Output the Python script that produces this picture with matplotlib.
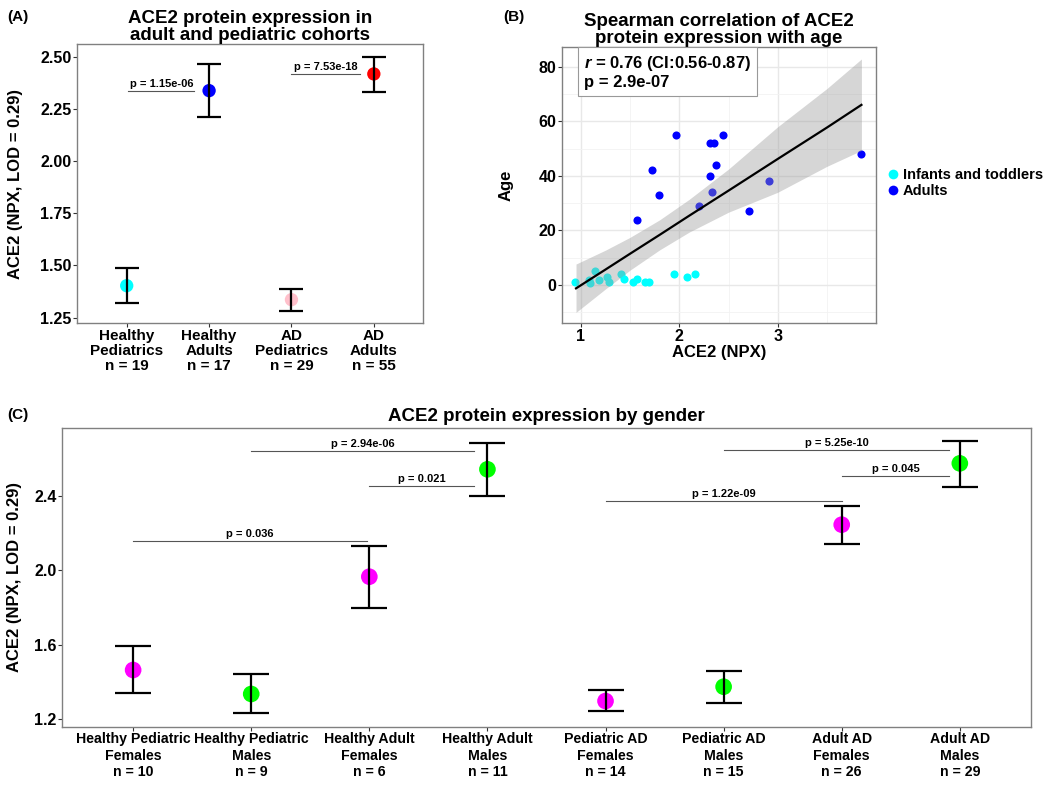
import numpy as np
import matplotlib
matplotlib.use('Agg')
import matplotlib.pyplot as plt
from matplotlib.lines import Line2D

plt.rcParams['font.family'] = ['Liberation Sans', 'DejaVu Sans']
plt.rcParams['font.weight'] = 'bold'
plt.rcParams['mathtext.fontset'] = 'custom'
plt.rcParams['mathtext.it'] = 'Liberation Sans:italic:bold'
plt.rcParams['mathtext.rm'] = 'Liberation Sans:bold'

# ---- (A) cohorts
cohorts = ['Healthy\nPediatrics\nn = 19', 'Healthy\nAdults\nn = 17',
           'AD\nPediatrics\nn = 29', 'AD\nAdults\nn = 55']
cohort_mean = [1.403, 2.337, 1.336, 2.417]
cohort_lo = [1.322, 2.211, 1.284, 2.332]
cohort_hi = [1.487, 2.465, 1.389, 2.497]
cohort_col = ['#00FFFF', '#0000FF', '#FFC0CB', '#FF0000']
a_pvals = [(1.02, 1.82, 2.337, 'p = 1.15e-06'),
           (3.0, 3.83, 2.415, 'p = 7.53e-18')]

# ---- (B) age vs ACE2
kid_npx = [0.94, 1.08, 1.09, 1.145, 1.18, 1.26, 1.29, 1.41, 1.44, 1.53, 1.57, 1.65, 1.69, 1.95, 2.08, 2.16]
kid_age = [1.2, 1.8, 0.6, 5.2, 1.8, 3.0, 1.2, 4.0, 2.1, 1.1, 2.1, 1.1, 1.1, 3.9, 3.0, 3.9]
adult_npx = [1.97, 2.31, 2.35, 2.44, 2.37, 2.31, 1.72, 1.79, 2.33, 2.20, 1.57, 2.91, 2.71, 3.85]
adult_age = [55, 52, 52, 55, 44, 40, 42, 33, 34, 29, 24, 38, 27, 48]
# lm fit and 95% band
fit_x = [0.95, 1.25, 1.5, 1.8, 2.1, 2.5, 3.0, 3.5, 3.85]
fit_y = [-1.2, 5.7, 11.5, 18.4, 25.4, 34.6, 46.2, 57.7, 66.0]
fit_lo = [-10.0, -1.4, 5.5, 12.9, 19.4, 26.7, 34.0, 43.5, 49.3]
fit_hi = [7.7, 12.8, 17.5, 23.9, 31.4, 42.5, 58.0, 72.0, 82.8]

# ---- (C) by gender
groups = ['Healthy Pediatric\nFemales\nn = 10', 'Healthy Pediatric\nMales\nn = 9',
          'Healthy Adult\nFemales\nn = 6', 'Healthy Adult\nMales\nn = 11',
          'Pediatric AD\nFemales\nn = 14', 'Pediatric AD\nMales\nn = 15',
          'Adult AD\nFemales\nn = 26', 'Adult AD\nMales\nn = 29']
group_mean = [1.464, 1.335, 1.966, 2.544, 1.297, 1.374, 2.246, 2.576]
group_lo = [1.338, 1.231, 1.799, 2.400, 1.241, 1.284, 2.143, 2.450]
group_hi = [1.591, 1.442, 2.131, 2.687, 1.354, 1.460, 2.348, 2.695]
group_sex = ['F', 'M', 'F', 'M', 'F', 'M', 'F', 'M']
sex_col = {'F': '#FF00FF', 'M': '#00FF00'}
c_pvals = [(1, 2.98, 2.158, 'p = 0.036'), (2, 3.89, 2.642, 'p = 2.94e-06'),
           (3, 3.89, 2.454, 'p = 0.021'), (5, 7, 2.375, 'p = 1.22e-09'),
           (6, 7.91, 2.648, 'p = 5.25e-10'), (7, 7.91, 2.508, 'p = 0.045')]

spine_col = '#808080'


def style(ax, xsize=11.5):
    for s in ax.spines.values():
        s.set_color(spine_col)
        s.set_linewidth(1.0)
    ax.tick_params(length=3, width=0.8, color='#333333', labelsize=11.5, pad=1)
    ax.tick_params(axis='x', labelsize=xsize)
    for lab in ax.get_xticklabels() + ax.get_yticklabels():
        lab.set_fontweight('bold')


def brackets(ax, items):
    for x0, x1, y, txt in items:
        ax.plot([x0, x1], [y, y], color='#555555', lw=0.8, zorder=1)
        ax.annotate(txt, ((x0 + x1) / 2, y), xytext=(0, 1.5), textcoords='offset points',
                    ha='center', va='bottom', fontsize=8, fontweight='bold')


def dots(ax, means, los, his, cols, ms, cap):
    x = np.arange(1, len(means) + 1)
    m = np.array(means)
    ax.scatter(x, m, s=ms ** 2, c=cols, zorder=2, linewidths=0)
    ax.errorbar(x, m, yerr=[m - np.array(los), np.array(his) - m], fmt='none',
                ecolor='black', elinewidth=1.6, capsize=cap, capthick=1.6, zorder=3)


fig = plt.figure(figsize=(10.5, 7.85), dpi=100)

# (A)
axA = fig.add_axes([0.0736, 0.5882, 0.3295, 0.3554])
dots(axA, cohort_mean, cohort_lo, cohort_hi, cohort_col, 9.6, 8.9)
brackets(axA, a_pvals)
axA.set_xlim(0.4, 4.6)
axA.set_ylim(1.223, 2.559)
axA.set_xticks(range(1, 5))
axA.set_xticklabels(cohorts, linespacing=1.12)
axA.set_yticks([1.25, 1.5, 1.75, 2.0, 2.25, 2.5])
axA.set_yticklabels(['%.2f' % v for v in [1.25, 1.5, 1.75, 2.0, 2.25, 2.5]])
axA.set_ylabel('ACE2 (NPX, LOD = 0.29)', fontsize=12, fontweight='bold')
axA.yaxis.set_label_coords(-0.158, 0.5)
axA.set_title('ACE2 protein expression in\nadult and pediatric cohorts', fontsize=13.5,
              fontweight='bold', linespacing=1.0, pad=3)
style(axA, 11)

# (B)
axB = fig.add_axes([0.535, 0.5885, 0.299, 0.352])
axB.scatter(kid_npx, kid_age, s=34, c='#00FFFF', linewidths=0, zorder=2)
axB.scatter(adult_npx, adult_age, s=34, c='#0000FF', linewidths=0, zorder=2)
axB.fill_between(fit_x, fit_lo, fit_hi, color='#999999', alpha=0.4, lw=0, zorder=3)
axB.plot(fit_x, fit_y, color='black', lw=1.6, zorder=4)
axB.set_xlim(0.805, 3.995)
axB.set_ylim(-13.9, 87.3)
axB.set_xticks([1, 2, 3])
axB.set_xticks([1.5, 2.5, 3.5], minor=True)
axB.set_yticks([0, 20, 40, 60, 80])
axB.set_yticks([-10, 10, 30, 50, 70], minor=True)
axB.grid(which='major', color='#E8E8E8', lw=1.0, zorder=0)
axB.grid(which='minor', color='#F2F2F2', lw=0.6, zorder=0)
axB.tick_params(which='minor', length=0)
axB.set_axisbelow(True)
axB.set_xlabel('ACE2 (NPX)', fontsize=12, fontweight='bold')
axB.xaxis.set_label_coords(0.5, -0.08)
axB.set_ylabel('Age', fontsize=12, fontweight='bold')
axB.yaxis.set_label_coords(-0.152, 0.5)
axB.set_title('Spearman correlation of ACE2\nprotein expression with age', fontsize=13.5,
              fontweight='bold', linespacing=1.0, pad=3)
axB.text(0.071, 0.972, '$\\mathit{r}$ = 0.76 (CI:0.56-0.87)\np = 2.9e-07', transform=axB.transAxes,
         ha='left', va='top', fontsize=12, fontweight='bold', linespacing=1.15, zorder=5,
         bbox=dict(boxstyle='square,pad=0.35', fc='white', ec='#999999', lw=0.8))
style(axB)
handles = [Line2D([], [], ls='none', marker='o', ms=7, mfc='#00FFFF', mec='none'),
           Line2D([], [], ls='none', marker='o', ms=7, mfc='#0000FF', mec='none')]
fig.legend(handles, ['Infants and toddlers', 'Adults'], loc='upper left',
           bbox_to_anchor=(0.838, 0.795), frameon=False, fontsize=10.5,
           handlelength=0.8, handletextpad=0.25, labelspacing=0.1, borderpad=0)

# (C)
axC = fig.add_axes([0.0593, 0.0743, 0.9223, 0.3809])
dots(axC, group_mean, group_lo, group_hi, [sex_col[s] for s in group_sex], 12, 12.7)
brackets(axC, c_pvals)
axC.set_xlim(0.4, 8.6)
axC.set_ylim(1.159, 2.768)
axC.set_xticks(range(1, 9))
axC.set_xticklabels(groups, linespacing=1.22)
axC.set_yticks([1.2, 1.6, 2.0, 2.4])
axC.set_yticklabels(['%.1f' % v for v in [1.2, 1.6, 2.0, 2.4]])
axC.set_ylabel('ACE2 (NPX, LOD = 0.29)', fontsize=12, fontweight='bold')
axC.yaxis.set_label_coords(-0.042, 0.5)
axC.set_title('ACE2 protein expression by gender', fontsize=13.5, fontweight='bold', pad=5)
style(axC, 10.2)

fig.text(0.007, 1 - 16.5 / 785, '(A)', fontsize=11, fontweight='bold', va='center')
fig.text(503 / 1050, 1 - 17 / 785, '(B)', fontsize=11, fontweight='bold', va='center')
fig.text(0.007, 1 - 415.5 / 785, '(C)', fontsize=11, fontweight='bold', va='center')

fig.savefig('out.png', dpi=100, facecolor='white')
